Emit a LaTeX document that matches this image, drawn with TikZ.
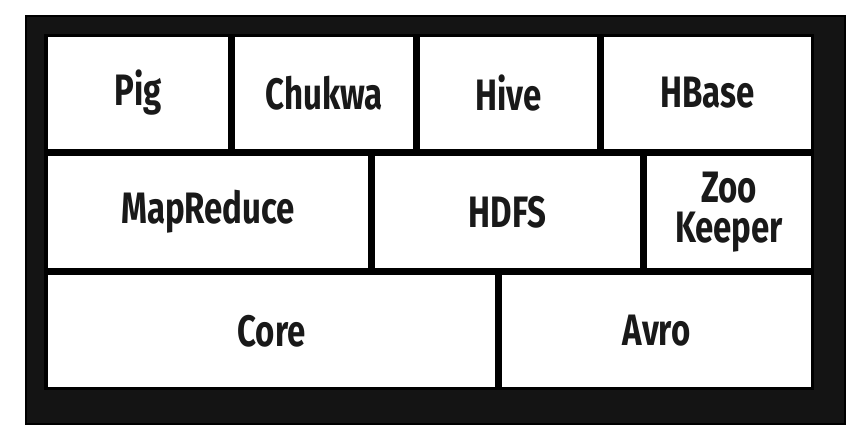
\documentclass[tikz,border=0pt]{standalone}
\usepackage{fontspec}
\setmainfont{Fira Sans}[FakeStretch=0.75]
\begin{document}
\begin{tikzpicture}[x=1pt,y=-1pt,
  cell/.style={fill=white, draw=none, inner sep=0pt, minimum height=112pt,
    align=center, font=\fontsize{44}{40}\selectfont\bfseries, text=black!90}]
\useasboundingbox (0,0) rectangle (866,440);
\fill[white] (0,0) rectangle (866,440);
\fill[black!92, draw=black, line width=2pt] (26,16) rectangle (845,424);
\fill[black] (44,34) rectangle (814,390);
% row 1
\node[cell, minimum width=180pt] (pig) at (138,93) {Pig};
\node[cell, minimum width=178pt] (chukwa) at (324,93) {Chukwa};
\node[cell, minimum width=177pt] (hive) at (508.5,93) {Hive};
\node[cell, minimum width=207pt] (hbase) at (707.5,93) {HBase};
% row 2
\node[cell, minimum width=320pt] (mapreduce) at (208,212) {MapReduce};
\node[cell, minimum width=265pt] (hdfs) at (507.5,212) {HDFS};
\node[cell, minimum width=164pt] (zookeeper) at (729,212) {Zoo\\Keeper};
% row 3
\node[cell, minimum width=447pt] (core) at (271.5,331) {Core};
\node[cell, minimum width=309pt] (avro) at (656.5,331) {Avro};
\end{tikzpicture}
\end{document}
